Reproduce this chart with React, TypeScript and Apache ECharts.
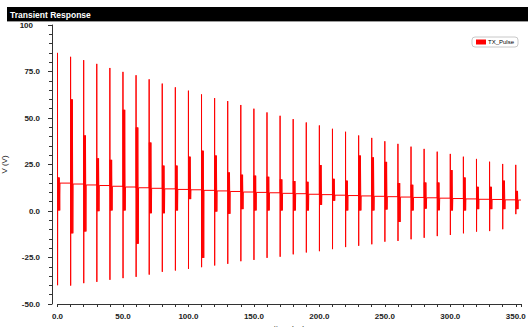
import React, { useEffect, useRef } from "react";
import * as echarts from "echarts";

const pulseTimes = [0, 10, 20, 30, 40, 50, 60, 70, 80, 90, 100, 110, 120, 130, 140, 150, 160, 170, 180, 190, 200, 210, 220, 230, 240, 250, 260, 270, 280, 290, 300, 310, 320, 330, 340, 350];
const spikeMax = [85.0, 82.9, 81.1, 79.1, 76.9, 74.8, 73.0, 70.8, 68.5, 66.5, 64.7, 62.7, 60.7, 59.1, 57.0, 55.0, 53.0, 51.2, 49.4, 47.6, 46.0, 44.2, 42.6, 40.6, 39.3, 37.5, 36.1, 34.6, 33.4, 31.9, 30.7, 29.2, 28.0, 26.5, 25.3, 24.8];
const spikeMin = [-39.9, -40.1, -38.8, -38.1, -37.0, -36.1, -35.4, -34.2, -32.7, -32.0, -31.1, -30.2, -29.3, -28.4, -27.0, -26.3, -25.2, -24.6, -23.3, -22.3, -21.6, -20.5, -19.4, -18.7, -17.9, -16.5, -16.1, -15.2, -14.4, -13.5, -12.9, -12.0, -11.1, -10.8, -9.8, -1.7];
const ringHigh = [18.0, 60.0, 40.6, 28.3, 27.5, 54.4, 44.9, 36.8, 24.4, 24.4, 29.2, 32.4, 29.8, 20.7, 19.5, 19.0, 18.4, 17.0, 16.1, 15.7, 24.7, 17.3, 16.3, 29.8, 28.8, 26.4, 15.0, 14.1, 15.3, 15.3, 22.0, 18.0, 13.0, 13.0, 16.3, 10.8];
const ringLow = [0.3, -12.0, -11.0, -0.1, 0.3, 0.3, -17.6, -1.2, -1.2, 0.3, 6.4, -25.2, -0.3, -1.5, 1.0, 0.3, 0.3, 0.3, 0.3, 0.3, 3.3, 5.5, 0.3, 0.3, 0.3, 0.8, -5.9, 0.3, 1.3, 0.4, 0.3, 0.3, 1.0, 1.0, 1.0, 1.0];
const baseline = [15.0, 14.5, 14.0, 13.7, 13.3, 12.9, 12.5, 12.2, 11.9, 11.6, 11.4, 11.1, 10.8, 10.5, 10.2, 10.0, 9.8, 9.5, 9.3, 9.0, 8.8, 8.5, 8.3, 8.1, 7.9, 7.7, 7.5, 7.3, 7.1, 6.9, 6.7, 6.5, 6.3, 6.2, 6.0, 5.9];
const endTime = 354;
const yTicks = [-50, -25, 0, 25, 50, 75, 100];

function buildWave(): number[][] {
  const pts: number[][] = [];
  for (let i = 0; i < pulseTimes.length; i++) {
    const t = pulseTimes[i];
    const b = baseline[i];
    pts.push([t, b]);
    pts.push([t, spikeMax[i]]);
    pts.push([t + 0.05, spikeMin[i]]);
    pts.push([t + 0.15, ringHigh[i]]);
    pts.push([t + 0.45, ringLow[i]]);
    pts.push([t + 0.75, ringHigh[i]]);
    pts.push([t + 1.05, ringLow[i]]);
    pts.push([t + 1.35, ringHigh[i]]);
    pts.push([t + 1.7, ringLow[i]]);
    pts.push([t + 1.9, b]);
    const next = i + 1 < pulseTimes.length ? pulseTimes[i + 1] : endTime;
    pts.push([next - 0.01, b]);
  }
  return pts;
}

export default function App() {
  const ref = useRef<HTMLDivElement>(null);
  useEffect(() => {
    if (!ref.current) return;
    const chart = echarts.init(ref.current, null, { renderer: "svg", width: 531, height: 327 });
    const font = "Liberation Sans";
    chart.setOption({
      animation: false,
      backgroundColor: "#ffffff",
      textStyle: { fontFamily: font },
      graphic: [
        { type: "rect", shape: { x: 7, y: 7, width: 521, height: 14 }, style: { fill: "#000000" } },
        { type: "line", shape: { x1: 7, y1: 21.5, x2: 528, y2: 21.5 }, style: { stroke: "#9a9a9a", lineWidth: 1 } },
        {
          type: "text",
          x: 10,
          y: 14.5,
          style: { text: "Transient Response", fill: "#ffffff", font: `bold 8.5px "${font}"`, verticalAlign: "middle" },
        },
      ],
      legend: {
        show: true,
        right: 13,
        top: 37,
        icon: "rect",
        itemWidth: 10,
        itemHeight: 5,
        itemGap: 2,
        padding: [2, 4, 2, 4],
        borderColor: "#c8c8c8",
        borderWidth: 1,
        borderRadius: 3,
        textStyle: { fontSize: 6, color: "#000", fontFamily: font, padding: [0, 0, 0, -3] },
        data: [{ name: "TX_Pulse", itemStyle: { color: "#ff0000" } }],
      },
      grid: { left: 57.5, right: 10, top: 25, bottom: 23, containLabel: false, outerBoundsMode: "none" },
      xAxis: {
        type: "value",
        min: 0,
        max: endTime,
        interval: 50,
        name: "time (us)",
        nameLocation: "middle",
        nameGap: 13,
        nameTextStyle: { fontSize: 8, color: "#111", fontFamily: font },
        axisLine: { show: true, onZero: false, lineStyle: { color: "#333", width: 1 } },
        axisTick: { show: true, length: 3, lineStyle: { color: "#333", width: 1 } },
        minorTick: { show: true, splitNumber: 5, length: 3, lineStyle: { color: "#333", width: 1 } },
        splitLine: { show: false },
        minorSplitLine: { show: false },
        axisLabel: {
          fontSize: 8,
          fontWeight: "bold",
          color: "#222",
          margin: 8,
          formatter: (v: number) => v.toFixed(1),
        },
      },
      yAxis: {
        type: "value",
        min: yTicks[0],
        max: yTicks[yTicks.length - 1],
        interval: 25,
        offset: 5.5,
        name: "V (V)",
        nameLocation: "middle",
        nameGap: 34,
        nameTextStyle: { fontSize: 8, color: "#111", fontFamily: font },
        axisLine: { show: true, onZero: false, lineStyle: { color: "#333", width: 1 } },
        axisTick: { show: true, length: 4, lineStyle: { color: "#333", width: 1 } },
        minorTick: { show: true, splitNumber: 5, length: 3, lineStyle: { color: "#333", width: 1 } },
        splitLine: { show: false },
        minorSplitLine: { show: false },
        axisLabel: {
          fontSize: 8,
          fontWeight: "bold",
          color: "#222",
          margin: 12,
          formatter: (v: number) => (v === 100 ? "{a|100}" : v.toFixed(1)),
          rich: { a: { fontSize: 8, fontWeight: "bold", color: "#222", padding: [0, 7, 0, 0] } },
        },
      },
      series: [
        {
          name: "TX_Pulse",
          type: "line",
          data: buildWave(),
          showSymbol: false,
          symbol: "none",
          lineStyle: { color: "#ff0000", width: 1 },
          itemStyle: { color: "#ff0000" },
        },
      ],
    });
    return () => chart.dispose();
  }, []);
  return <div ref={ref} style={{ position: "fixed", left: 0, top: 0, width: 531, height: 327 }} />;
}
